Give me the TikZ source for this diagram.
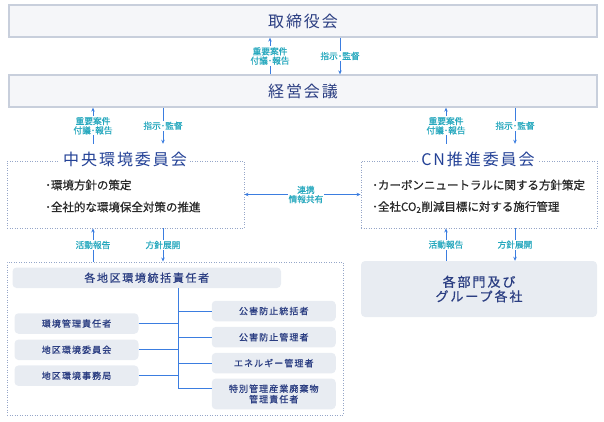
\documentclass[tikz,border=0pt]{standalone}
\usepackage{fontspec}
\setmainfont{Noto Sans CJK JP}
\newfontfamily\jpls[LetterSpace=12]{Noto Sans CJK JP}
\newfontfamily\jplsm[LetterSpace=12,FakeBold=0.8]{Noto Sans CJK JP}
\newfontfamily\jplsb[LetterSpace=15,FakeBold=0.8]{Noto Sans CJK JP}
\newfontfamily\jpmed[FakeBold=0.7]{Noto Sans CJK JP}
\newfontfamily\jplab[FakeBold=0.6]{Noto Sans CJK JP}
\usetikzlibrary{arrows.meta}
\definecolor{navy}{RGB}{43,62,130}
\definecolor{titleblue}{RGB}{35,65,150}
\definecolor{arrblue}{RGB}{59,125,224}
\definecolor{lblteal}{RGB}{38,168,190}
\definecolor{topfill}{RGB}{245,246,249}
\definecolor{topline}{RGB}{200,207,220}
\definecolor{boxfill}{RGB}{232,236,242}
\definecolor{dotline}{RGB}{150,166,200}
\definecolor{itemtext}{RGB}{40,40,40}
\tikzset{
  topbox/.style={draw=topline, line width=1.3pt, fill=topfill, minimum width=588pt, minimum height=32pt, inner sep=0pt, text=navy, font=\jpls\fontsize{16}{19}\selectfont},
  dotbox/.style={draw=dotline, line width=0.9pt, dash pattern=on 0.9pt off 1.6pt, inner sep=0pt},
  grpbox/.style={fill=boxfill, rounded corners=4pt, inner sep=0pt, text=navy, align=center},
  smallbox/.style={grpbox, minimum width=124pt, minimum height=20.5pt, font=\jplsm\fontsize{9}{10.5}\selectfont},
  arr/.style={draw=arrblue, line width=0.8pt, -{Stealth[length=4pt,width=3.5pt]}},
  biarr/.style={draw=arrblue, line width=0.8pt, {Stealth[length=4pt,width=3.5pt]}-{Stealth[length=4pt,width=3.5pt]}},
  lbl/.style={fill=white, text=lblteal, font=\jplab\fontsize{8.7}{9.3}\selectfont, align=center, inner sep=1pt},
  conn/.style={draw=arrblue, line width=0.9pt},
  item/.style={anchor=west, text=itemtext, font=\jpmed\fontsize{11.5}{13}\selectfont, inner sep=0pt},
  committee/.style={fill=white, text=titleblue, font=\jpls\fontsize{16}{19}\selectfont, inner xsep=3pt, inner ysep=0pt, minimum height=30pt}
}
\begin{document}
\begin{tikzpicture}[x=1pt,y=-1pt]
\useasboundingbox (0,0) rectangle (604,421);
% top boxes
\node[topbox] (board) at (303,21) {取締役会};
\node[topbox] (mgmt) at (303,91) {経営会議};
% committees
\node[dotbox, minimum width=237pt, minimum height=67pt] (cen) at (125.5,194.5) {};
\node[committee] (centitle) at (125,159) {中央環境委員会};
\node[item] (c1) at (45,185) {･環境方針の策定};
\node[item] (c2) at (45,207) {･全社的な環境保全対策の推進};
\node[dotbox, minimum width=236pt, minimum height=67pt] (cn) at (479,194.5) {};
\node[committee] (cntitle) at (478,159) {CN推進委員会};
\node[item] (n1) at (372,185) {･カーボンニュートラルに関する方針策定};
\node[item] (n2) at (372,207) {･全社CO\textsubscript{2}削減目標に対する施行管理};
% bottom left region
\node[dotbox, minimum width=336pt, minimum height=153pt] (reg) at (175,338.5) {};
\node[grpbox, minimum width=268.5pt, minimum height=20.5pt, font=\jplsb\fontsize{11}{13}\selectfont] (boss) at (146.75,277.75) {各地区環境統括責任者};
\node[smallbox] (l1) at (76.5,323.5) {環境管理責任者};
\node[smallbox] (l2) at (76.5,349.8) {地区環境委員会};
\node[smallbox] (l3) at (76.5,375.7) {地区環境事務局};
\node[smallbox] (r1) at (273.75,311) {公害防止統括者};
\node[smallbox] (r2) at (273.75,337.2) {公害防止管理者};
\node[smallbox] (r3) at (273.75,363.1) {エネルギー管理者};
\node[smallbox, minimum height=30.7pt] (r4) at (273.75,393.9) {特別管理産業廃棄物\\管理責任者};
% bottom right
\node[grpbox, minimum width=236pt, minimum height=56pt, font=\jplsb\fontsize{13}{14.5}\selectfont] (dept) at (479,289) {各部門及び\\グループ各社};
% coordinates
\coordinate (xa) at (270,0);
\coordinate (xb) at (340,0);
\coordinate (xc) at (93,0);
\coordinate (xd) at (163,0);
\coordinate (xe) at (446,0);
\coordinate (xf) at (515,0);
\coordinate (xt) at (178.5,0);
\coordinate (yb) at (0,388);
% arrows top
\draw[arr] (xa |- mgmt.north) -- node[lbl]{重要案件\\付議･報告} (xa |- board.south);
\draw[arr] (xb |- board.south) -- node[lbl]{指示･監督} (xb |- mgmt.north);
% arrows to committees
\draw[arr] (xc |- centitle.north) -- node[lbl]{重要案件\\付議･報告} (xc |- mgmt.south);
\draw[arr] (xd |- mgmt.south) -- node[lbl]{指示･監督} (xd |- centitle.north);
\draw[arr] (xe |- cntitle.north) -- node[lbl]{重要案件\\付議･報告} (xe |- mgmt.south);
\draw[arr] (xf |- mgmt.south) -- node[lbl]{指示･監督} (xf |- cntitle.north);
% link
\draw[biarr] (cen.east) -- node[lbl, pos=0.53]{連携\\情報共有} (cn.west);
% bottom arrows
\draw[arr] (xc |- reg.north) -- node[lbl]{活動報告} (xc |- cen.south);
\draw[arr] (xd |- cen.south) -- node[lbl]{方針展開} (xd |- reg.north);
\draw[arr] (xe |- dept.north) -- node[lbl]{活動報告} (xe |- cn.south);
\draw[arr] (xf |- cn.south) -- node[lbl]{方針展開} (xf |- dept.north);
% tree
\draw[conn] (xt |- boss.south) -- (xt |- yb) -- (r4.west |- yb);
\draw[conn] (xt |- r1.west) -- (r1.west);
\draw[conn] (xt |- r2.west) -- (r2.west);
\draw[conn] (xt |- r3.west) -- (r3.west);
\draw[conn] (l1.east) -- (xt |- l1.east);
\draw[conn] (l2.east) -- (xt |- l2.east);
\draw[conn] (l3.east) -- (xt |- l3.east);
\end{tikzpicture}
\end{document}
